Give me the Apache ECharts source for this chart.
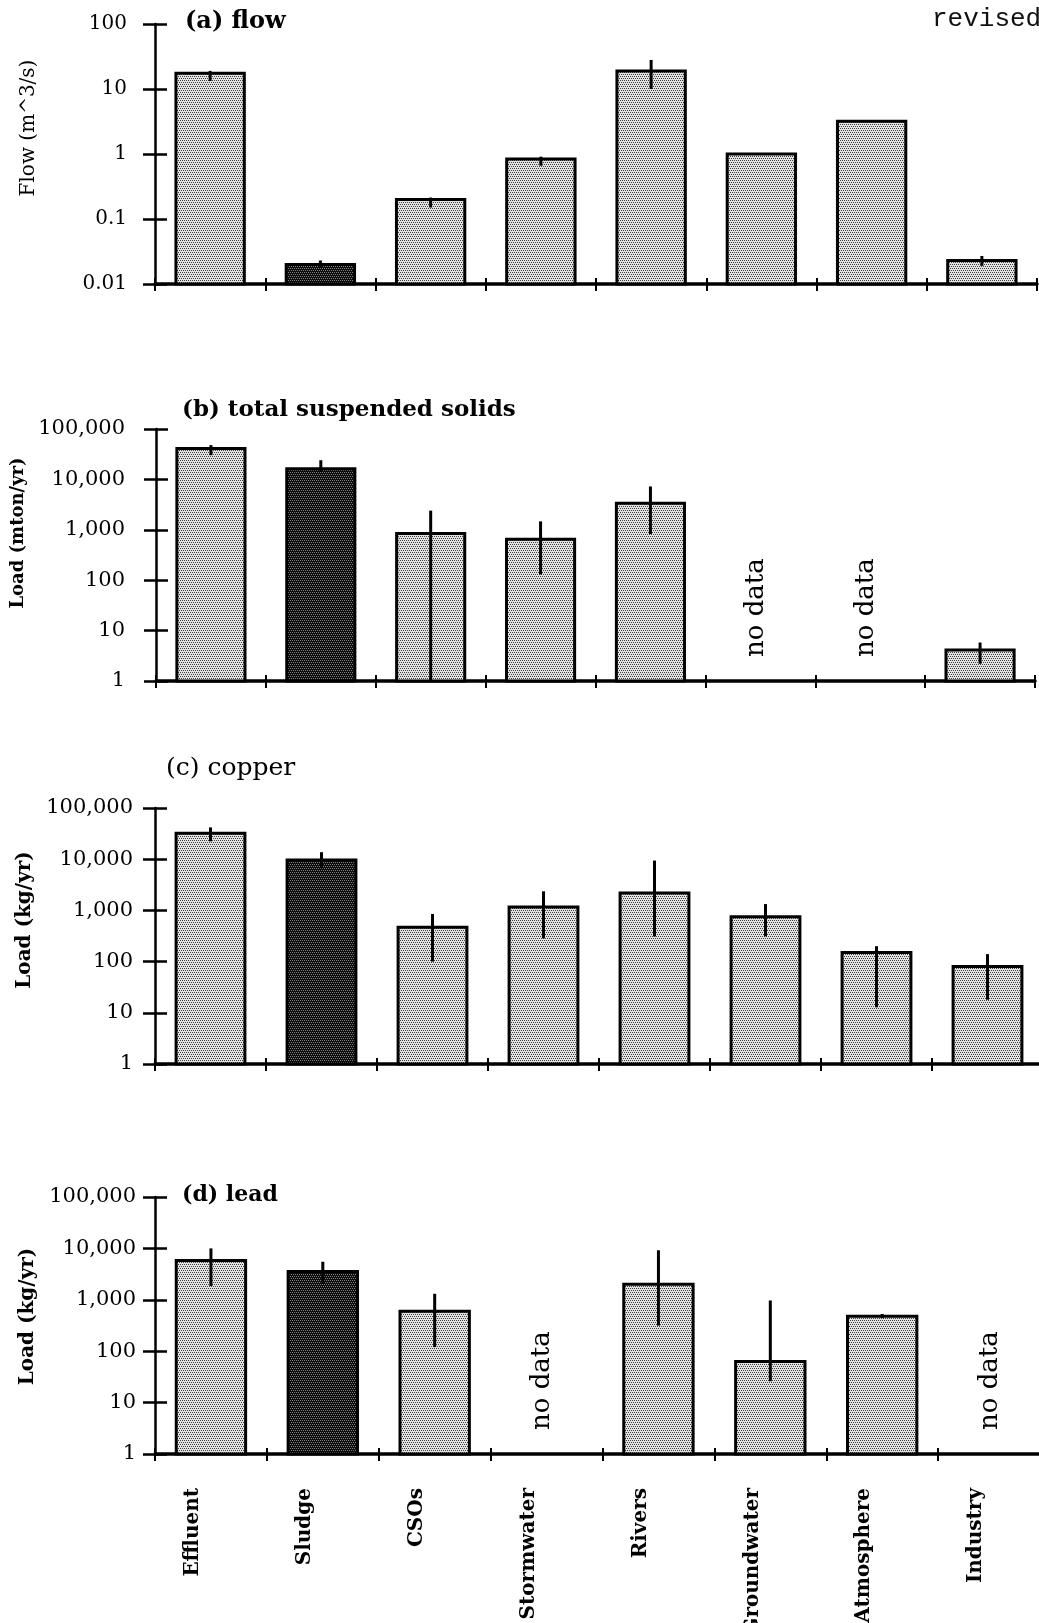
<!DOCTYPE html>
<html><head><meta charset="utf-8">
<script src="https://cdn.jsdelivr.net/npm/echarts@6/dist/echarts.min.js"></script>
<style>html,body{margin:0;padding:0;background:#fff}#c{width:1039px;height:1623px}</style>
</head><body><div id="c"></div>
<script>
const categories = ['Effluent','Sludge','CSOs','Stormwater','Rivers','Groundwater','Atmosphere','Industry'];
const sludgeIndex = 1;

const flowTicks = ['0.01','0.1','1','10','100'];
const loadTicks = ['1','10','100','1,000','10,000','100,000'];

const flowValues = [17.5, 0.02, 0.2, 0.84, 19, 1.0, 3.2, 0.023];
const flowLow    = [13.3, 0.018, 0.15, 0.66, 10, 1.0, 3.2, 0.019];
const flowHigh   = [19, 0.023, 0.214, 0.91, 28, 1.0, 3.2, 0.027];

const tssValues = [41000, 16300, 845, 650, 3360, null, null, 4.1];
const tssLow    = [30200, 14000, 1, 130, 820, null, null, 2.2];
const tssHigh   = [47900, 24000, 2400, 1470, 7240, null, null, 5.8];

const copperValues = [32300, 9600, 470, 1160, 2180, 750, 150, 80];
const copperLow    = [22300, 6650, 100, 285, 310, 310, 12.8, 18];
const copperHigh   = [41800, 13700, 850, 2360, 9400, 1330, 200, 140];

const leadValues = [5840, 3550, 600, null, 2000, 63, 480, null];
const leadLow    = [1850, 2030, 120, null, 315, 26, 440, null];
const leadHigh   = [10000, 5500, 1310, null, 9200, 970, 530, null];

function makePattern(bg, dot) {
  const c = document.createElement('canvas');
  c.width = 4; c.height = 4;
  const g = c.getContext('2d');
  g.fillStyle = bg; g.fillRect(0, 0, 4, 4);
  g.fillStyle = dot;
  [[0,0],[2,0],[1,2],[3,2]].forEach(p => g.fillRect(p[0], p[1], 1, 1));
  return { image: c, repeat: 'repeat' };
}
const lightFill = makePattern('#e2e2e2', '#404040');
const darkFill = makePattern('#0c0c0c', '#808080');

const SERIF = '"DejaVu Serif", "Liberation Serif", serif';

const panels = [
  { title: '(a) flow', titleBold: true, titleSize: 24, titleLeft: 185, titleTop: 10,
    grid: { left: 155, top: 24, width: 882, height: 260 },
    min: 0.01, max: 100, ticks: flowTicks, labelMargin: 28, tickSize: 20,
    name: 'Flow (m^3/s)', nameBold: false, nameSize: 20, nameShift: 26,
    values: flowValues, low: flowLow, high: flowHigh },
  { title: '(b) total suspended solids', titleBold: true, titleSize: 23, titleLeft: 182, titleTop: 399,
    grid: { left: 156, top: 429, width: 879, height: 252 },
    min: 1, max: 100000, ticks: loadTicks, labelMargin: 31, tickSize: 21,
    name: 'Load (mton/yr)', nameBold: true, nameSize: 18, nameShift: 22,
    values: tssValues, low: tssLow, high: tssHigh },
  { title: '(c) copper', titleBold: false, titleSize: 25, titleLeft: 166, titleTop: 756,
    grid: { left: 155, top: 808, width: 888, height: 256 },
    min: 1, max: 100000, ticks: loadTicks, labelMargin: 22, tickSize: 21,
    name: 'Load (kg/yr)', nameBold: true, nameSize: 20, nameShift: 16,
    values: copperValues, low: copperLow, high: copperHigh },
  { title: '(d) lead', titleBold: true, titleSize: 22, titleLeft: 182, titleTop: 1184,
    grid: { left: 155, top: 1197, width: 895, height: 257 },
    min: 1, max: 100000, ticks: loadTicks, labelMargin: 19, tickSize: 21,
    name: 'Load (kg/yr)', nameBold: true, nameSize: 20, nameShift: 9,
    values: leadValues, low: leadLow, high: leadHigh, showCats: true }
];

const option = {
  animation: false,
  backgroundColor: '#fff',
  title: [], grid: [], xAxis: [], yAxis: [], series: []
};

option.title.push({
  text: 'revised', left: 932, top: 6, padding: 0,
  textStyle: { fontFamily: '"Liberation Mono", "DejaVu Sans Mono", monospace', fontSize: 26, fontWeight: 'normal', color: '#111' }
});

panels.forEach((p, k) => {
  option.title.push({
    text: p.title, left: p.titleLeft, top: p.titleTop, padding: 0,
    textStyle: { fontFamily: SERIF, fontSize: p.titleSize, fontWeight: p.titleBold ? 'bold' : 'normal', color: '#000' }
  });
  option.grid.push(Object.assign({ outerBoundsMode: 'none', containLabel: false }, p.grid));
  const xMain = {
    type: 'category', gridIndex: k, data: categories, position: 'bottom',
    boundaryGap: true,
    axisLine: { show: true, lineStyle: { color: '#000', width: 3.5 } },
    axisTick: { show: true, length: 7, lineStyle: { color: '#000', width: 2 } },
    axisLabel: p.showCats ? {
      show: true, rotate: 90, margin: 34, interval: 0,
      verticalAlign: 'bottom', lineHeight: 36,
      fontFamily: SERIF, fontWeight: 'bold', fontSize: 20, color: '#000'
    } : { show: false },
    splitLine: { show: false }
  };
  const xInner = {
    type: 'category', gridIndex: k, data: categories, position: 'bottom', offset: 0,
    boundaryGap: true,
    axisLine: { show: false },
    axisTick: { show: true, inside: true, length: 6, lineStyle: { color: '#000', width: 2 } },
    axisLabel: { show: false }, splitLine: { show: false }
  };
  const fmt = v => {
    const idx = Math.round(Math.log10(v / p.min));
    return p.ticks[idx] !== undefined ? p.ticks[idx] : '';
  };
  const yMain = {
    type: 'log', logBase: 10, gridIndex: k, min: p.min, max: p.max, position: 'left',
    name: p.name, nameLocation: 'middle', nameRotate: 90, nameGap: 116,
    nameTextStyle: { fontFamily: SERIF, fontSize: p.nameSize, fontWeight: p.nameBold ? 'bold' : 'normal', color: '#000', padding: [0, 0, 0, p.nameShift * 2] },
    axisLine: { show: true, lineStyle: { color: '#000', width: 2.5 } },
    axisTick: { show: true, length: 12, lineStyle: { color: '#000', width: 2.5 } },
    axisLabel: { show: true, margin: p.labelMargin, formatter: fmt, fontFamily: SERIF, fontSize: p.tickSize, color: '#000' },
    splitLine: { show: false }, minorTick: { show: false }
  };
  const yInner = {
    type: 'log', logBase: 10, gridIndex: k, min: p.min, max: p.max, position: 'left', offset: 0,
    axisLine: { show: false },
    axisTick: { show: true, inside: true, length: 12, lineStyle: { color: '#000', width: 2.5 } },
    axisLabel: { show: false }, splitLine: { show: false }
  };
  const xi = option.xAxis.length;
  option.xAxis.push(xMain, xInner);
  const yi = option.yAxis.length;
  option.yAxis.push(yMain, yInner);

  const data = categories.map((c, i) => [i, p.values[i], p.low[i], p.high[i]]);
  option.series.push({
    type: 'custom', xAxisIndex: xi, yAxisIndex: yi, clip: false, silent: true,
    data: data,
    renderItem: function (params, api) {
      const i = api.value(0);
      const v = p.values[i];
      const base = api.coord([i, p.min]);
      const band = api.coord([1, p.min])[0] - api.coord([0, p.min])[0];
      if (v === null || v === undefined) {
        return {
          type: 'text', x: base[0] - 4, y: base[1] - 24, rotation: Math.PI / 2,
          style: { text: 'no data', fontFamily: SERIF, fontSize: 26, fill: '#000', align: 'left', verticalAlign: 'middle' }
        };
      }
      const top = api.coord([i, api.value(1)]);
      const bw = band * 0.62;
      const children = [{
        type: 'rect',
        shape: { x: base[0] - bw / 2, y: top[1], width: bw, height: base[1] - top[1] },
        style: { fill: i === sludgeIndex ? darkFill : lightFill, stroke: '#000', lineWidth: 3 }
      }];
      const lo = api.value(2), hi = api.value(3);
      if (!isNaN(lo) && !isNaN(hi) && hi > lo) {
        const a = api.coord([i, lo]), b = api.coord([i, hi]);
        children.push({
          type: 'line', shape: { x1: a[0], y1: a[1], x2: b[0], y2: b[1] },
          style: { stroke: '#000', lineWidth: 3 }
        });
      }
      return { type: 'group', children: children };
    }
  });
});

const chart = echarts.init(document.getElementById('c'), null, { renderer: 'canvas' });
chart.setOption(option);
</script>
</body></html>
